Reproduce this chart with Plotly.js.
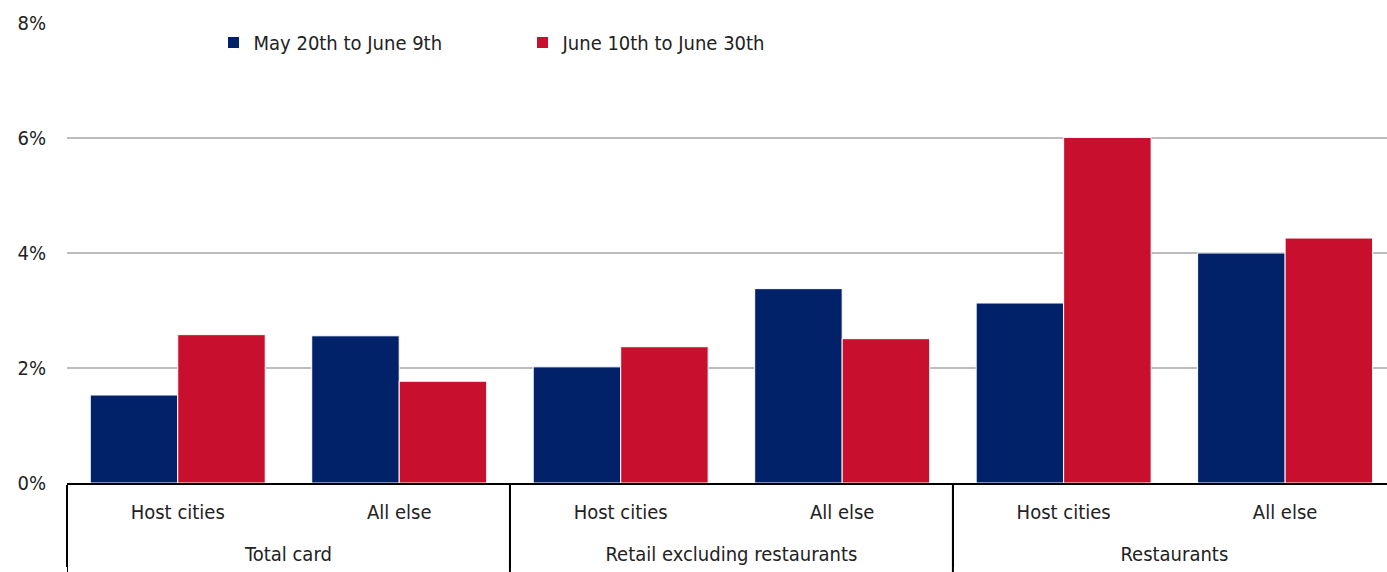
<!DOCTYPE html>
<html>
<head>
<meta charset="utf-8">
<script src="https://cdn.plot.ly/plotly-3.0.1.min.js"></script>
<style>html,body{margin:0;padding:0;background:#fff;}#chart{width:1387px;height:572px;}</style>
</head>
<body>
<div id="chart"></div>
<script>
const groups = ["Total card", "Total card", "Retail excluding restaurants", "Retail excluding restaurants", "Restaurants", "Restaurants"];
const subcats = ["Host cities", "All else", "Host cities", "All else", "Host cities", "All else"];
const seriesNames = ["May 20th to June 9th", "June 10th to June 30th"];
const may20 = [1.53, 2.56, 2.02, 3.38, 3.13, 4.00];
const june10 = [2.58, 1.77, 2.37, 2.51, 6.01, 4.26];
const yTicks = [0, 2, 4, 6, 8];
const yTickText = ["0%", "2%", "4%", "6%", "8%"];
const dividerPositions = [-0.5, 1.5, 3.5];

// group labels pushed one line lower (as in the reference) via a leading line break
const groupLabels = groups.map(g => "<br>" + g);

const FONT = "'DejaVu Sans Condensed', 'Liberation Sans Narrow', sans-serif";
const traces = [
  {type: "bar", name: seriesNames[0], x: [groupLabels, subcats], y: may20,
   marker: {color: "#012169", line: {color: "#ffffff", width: 1}}},
  {type: "bar", name: seriesNames[1], x: [groupLabels, subcats], y: june10,
   marker: {color: "#C8102E", line: {color: "#ffffff", width: 1}}}
];
const shapes = dividerPositions.map(p => ({type: "line", xref: "x", yref: "paper",
  x0: p, x1: p, y0: 0, y1: -0.25, line: {color: "#000", width: 2}}));
const layout = {
  width: 1387, height: 572,
  margin: {l: 67, r: 0, t: 23, b: 89},
  paper_bgcolor: "#fff", plot_bgcolor: "#fff",
  font: {family: FONT, size: 20, color: "#222"},
  barmode: "group", bargap: 0.21, bargroupgap: 0,
  showlegend: true,
  legend: {orientation: "h", x: 0.111, y: 1.0, xanchor: "left", yanchor: "top",
           font: {family: FONT, size: 20, color: "#222"}, itemwidth: 30, traceorder: "normal",
           bgcolor: "rgba(0,0,0,0)", entrywidth: 264},
  shapes: shapes,
  xaxis: {type: "multicategory", range: [-0.5, 5.46], showgrid: false,
          showline: true, linecolor: "#000", linewidth: 2,
          showdividers: true, dividercolor: "#000", dividerwidth: 2,
          ticks: "", ticklabelstandoff: 10, tickfont: {family: FONT, size: 20, color: "#222"}},
  yaxis: {range: [0, 8], tickvals: yTicks, ticktext: yTickText,
          showgrid: true, gridcolor: "#bdbdbd", gridwidth: 2,
          zeroline: false, showline: false, ticks: "", ticklabelstandoff: 20,
          tickfont: {family: FONT, size: 20, color: "#222"}}
};
Plotly.newPlot("chart", traces, layout, {displayModeBar: false, staticPlot: true});
</script>
</body>
</html>
